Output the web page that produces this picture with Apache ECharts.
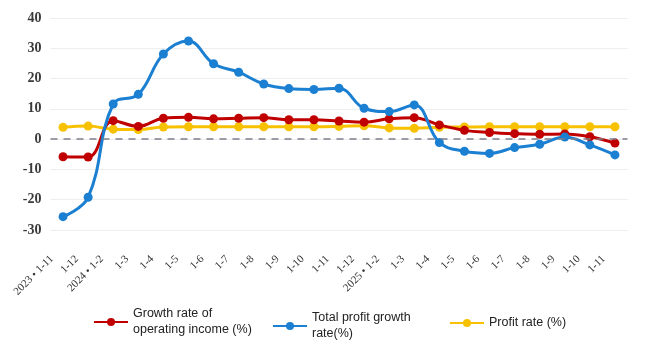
<!DOCTYPE html>
<html>
<head>
<meta charset="utf-8">
<script src="https://cdn.jsdelivr.net/npm/echarts@6/dist/echarts.min.js"></script>
<style>
  html, body { margin: 0; padding: 0; background: #fff; }
  #chart { width: 650px; height: 341px; }
</style>
</head>
<body>
<div id="chart"></div>
<script>
// Reporting periods (cumulative months)
const periods = [
  '2023 • 1-11', '1-12',
  '2024 • 1-2', '1-3', '1-4', '1-5', '1-6', '1-7', '1-8', '1-9', '1-10', '1-11', '1-12',
  '2025 • 1-2', '1-3', '1-4', '1-5', '1-6', '1-7', '1-8', '1-9', '1-10', '1-11'
];

// Growth rate of operating income (%)
const incomeGrowth = [
  -5.8, -5.9,
  6.1, 4.2, 6.9, 7.2, 6.7, 6.9, 7.1, 6.4, 6.4, 6.0, 5.6,
  6.7, 7.1, 4.7, 2.9, 2.2, 1.8, 1.6, 1.7, 0.8, -1.3
];

// Total profit growth rate (%)
const profitGrowth = [
  -25.6, -19.2,
  11.6, 14.8, 28.1, 32.4, 24.9, 22.1, 18.2, 16.7, 16.4, 16.8, 10.2,
  9.1, 11.3, -1.1, -4.0, -4.7, -2.8, -1.7, 0.7, -1.9, -5.2
];

// Profit rate (%)
const profitRate = [
  3.9, 4.3,
  3.3, 3.2, 4.0, 4.1, 4.1, 4.1, 4.1, 4.1, 4.1, 4.2, 4.4,
  3.7, 3.6, 3.9, 4.0, 4.1, 4.1, 4.1, 4.1, 4.1, 4.1
];

const yTicks = { min: -30, max: 40, step: 10 };

const NAME_INCOME = 'Growth rate of operating income (%)';
const NAME_PROFIT = 'Total profit growth rate(%)';
const NAME_RATE = 'Profit rate (%)';

const legendLines = {
  [NAME_INCOME]: 'Growth rate of\noperating income (%)',
  [NAME_PROFIT]: 'Total profit growth\nrate(%)',
  [NAME_RATE]: 'Profit rate (%)'
};

function legendAt(name, left, top) {
  return {
    data: [name],
    left: left,
    top: top,
    itemWidth: 34,
    itemHeight: 10,
    padding: 0,
    selectedMode: false,
    formatter: n => legendLines[n],
    textStyle: {
      fontFamily: 'Liberation Sans, Arial, sans-serif',
      fontSize: 12.5,
      lineHeight: 16,
      color: '#222'
    }
  };
}

function lineSeries(name, data, color, z) {
  return {
    name: name,
    type: 'line',
    data: data,
    z: z,
    smooth: 0.4,
    symbol: 'circle',
    symbolSize: 9,
    lineStyle: { width: 3, color: color },
    itemStyle: { color: color },
    emphasis: { disabled: true }
  };
}

const chart = echarts.init(document.getElementById('chart'), null, { renderer: 'canvas' });

const rateSeries = lineSeries(NAME_RATE, profitRate, '#f7c100', 2);
// dashed zero reference line
rateSeries.markLine = {
  silent: true,
  symbol: 'none',
  label: { show: false },
  lineStyle: { color: '#7d7f8c', type: [7, 6], width: 1.6 },
  data: [{ yAxis: 0 }],
  animation: false
};

chart.setOption({
  animation: false,
  grid: { left: 50.5, right: 22.5, top: 18, bottom: 111 },
  legend: [
    legendAt(NAME_INCOME, 93, 306),
    legendAt(NAME_PROFIT, 272, 310),
    legendAt(NAME_RATE, 449, 315)
  ],
  xAxis: {
    type: 'category',
    data: periods,
    boundaryGap: true,
    axisLine: { show: false },
    axisTick: { show: false },
    axisLabel: {
      rotate: 45,
      margin: 16,
      padding: [0, 16, 0, 0],
      interval: 0,
      fontFamily: 'Liberation Serif, Times New Roman, serif',
      fontSize: 11,
      color: '#333'
    },
    splitLine: { show: false }
  },
  yAxis: {
    type: 'value',
    min: yTicks.min,
    max: yTicks.max,
    interval: yTicks.step,
    axisLine: { show: false },
    axisTick: { show: false },
    axisLabel: {
      margin: 9,
      fontFamily: 'Liberation Serif, Times New Roman, serif',
      fontWeight: 'bold',
      fontSize: 14,
      color: '#3a3a3a'
    },
    splitLine: { lineStyle: { color: '#eeeeee', width: 1 } }
  },
  series: [
    lineSeries(NAME_INCOME, incomeGrowth, '#c00000', 3),
    lineSeries(NAME_PROFIT, profitGrowth, '#1b7fd2', 4),
    rateSeries
  ]
});
</script>
</body>
</html>
